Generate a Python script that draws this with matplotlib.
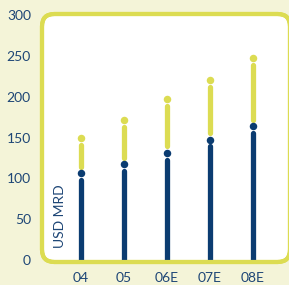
import matplotlib
matplotlib.use("Agg")
import matplotlib.pyplot as plt
from matplotlib.patches import FancyBboxPatch

categories = ["04", "05", "06E", "07E", "08E"]
lower_values = [106, 117, 131, 147, 164]
total_values = [149, 171, 197, 220, 247]
y_ticks = [0, 50, 100, 150, 200, 250, 300]
y_label = "USD MRD"

BG = "#F4F4D8"
YEL = "#DCDC52"
BLUE = "#0B3C71"
TXT = "#1E4676"

plt.rcParams['font.family'] = ['Lato', 'DejaVu Sans']

fig = plt.figure(figsize=(2.89, 2.85), dpi=100)
fig.patch.set_facecolor(BG)
ax = fig.add_axes([42/289, 23/285, 248/289, 248/285])
ax.set_facecolor("none")
for s in ax.spines.values():
    s.set_visible(False)

box = FancyBboxPatch((0, 0), 1, 1, boxstyle="round,pad=0,rounding_size=0.05",
                     transform=ax.transAxes, facecolor="white", edgecolor=YEL,
                     linewidth=3.0, clip_on=False, zorder=0)
ax.add_patch(box)

g = 8
xs = list(range(len(categories)))
for x, lo, tot in zip(xs, lower_values, total_values):
    ax.plot([x, x], [0, lo - g], color=BLUE, lw=3.8, solid_capstyle="round", zorder=2)
    ax.plot([x], [lo], marker="o", ms=5.4, color=BLUE, mec="none", zorder=3)
    ax.plot([x, x], [lo + g, tot - g], color=YEL, lw=3.8, solid_capstyle="round", zorder=2)
    ax.plot([x], [tot], marker="o", ms=5.4, color=YEL, mec="none", zorder=3)

box2 = FancyBboxPatch((0, 0), 1, 1, boxstyle="round,pad=0,rounding_size=0.05",
                      transform=ax.transAxes, facecolor="none", edgecolor=YEL,
                      linewidth=3.0, clip_on=False, zorder=4)
ax.add_patch(box2)

ax.set_xlim(-0.907, 4.86)
ax.set_ylim(-2.4, 301.2)
ax.set_xticks(xs)
ax.set_xticklabels(categories)
ax.set_yticks(y_ticks)
ax.set_yticklabels([str(v) for v in y_ticks])
ax.tick_params(axis="both", length=0, labelsize=10, labelcolor=TXT)
ax.tick_params(axis="y", pad=8)
ax.tick_params(axis="x", pad=7)

ax.text(18/248, 0.056, y_label, transform=ax.transAxes, rotation=90,
        ha="center", va="bottom", fontsize=10, color=TXT)

fig.savefig("out.png", dpi=100, facecolor=BG)
